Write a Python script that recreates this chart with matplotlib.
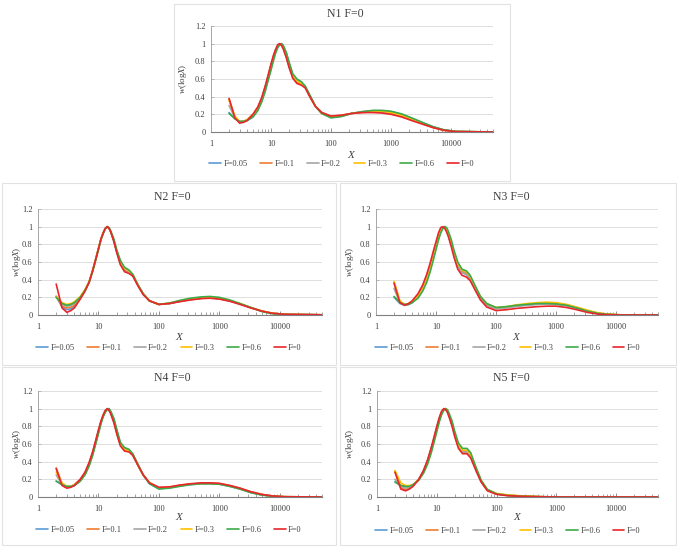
import matplotlib
matplotlib.use("Agg")
import matplotlib.pyplot as plt
from matplotlib.patches import Rectangle
from matplotlib.ticker import LogLocator, NullFormatter, FixedLocator, FixedFormatter

plt.rcParams['font.family'] = ['Liberation Serif', 'DejaVu Serif']
plt.rcParams['mathtext.fontset'] = 'custom'
plt.rcParams['mathtext.rm'] = 'Liberation Serif'
plt.rcParams['mathtext.it'] = 'Liberation Serif:italic'

# shared X grid
x_vals = [2, 2.5, 3, 3.5, 4, 5, 6, 7, 8, 9, 10, 11, 12, 13, 14, 15, 16, 18, 20, 23, 27, 32, 37, 45,
          55, 70, 100, 150, 220, 330, 500, 700, 1000, 1500, 2200, 3300, 5000, 7500, 12000, 50000]

series_labels = ["F=0.05", "F=0.1", "F=0.2", "F=0.3", "F=0.6", "F=0"]
series_colors = ["#5B9BD5", "#ED7D31", "#A5A5A5", "#FFC000", "#3DAA4A", "#E8262B"]

# N1
n1_f005 = [.22,.15,.12,.12,.13, .17,.25,.35,.47,.60,.72,.83,.91,.96,.99,1.0,.97,.89,.78, .65,.59,.56,.52,.40,.29,.21,.165, .18,.21,.23,.24,.24,.23,.20,.155,.105,.06,.025,.006,0]
n1_f01  = [.37,.17,.11,.12,.14, .20,.28,.38,.51,.64,.76,.86,.93,.98,1.0,.98,.95,.85,.74, .62,.56,.54,.51,.40,.29,.22,.18, .19,.21,.22,.23,.225,.21,.18,.14,.095,.05,.02,.005,0]
n1_f02  = [.30,.16,.11,.12,.14, .19,.27,.37,.50,.63,.75,.85,.93,.98,1.0,.99,.95,.86,.75, .63,.57,.55,.51,.40,.29,.22,.175, .185,.21,.225,.235,.23,.22,.19,.145,.10,.055,.022,.005,0]
n1_f03  = [.36,.18,.12,.12,.14, .19,.26,.36,.49,.62,.74,.84,.92,.97,.99,.99,.96,.87,.76, .64,.58,.55,.51,.40,.29,.21,.17, .18,.21,.225,.235,.235,.22,.19,.15,.10,.055,.022,.005,0]
n1_f06  = [.21,.15,.12,.12,.13, .17,.24,.34,.46,.59,.70,.81,.90,.96,.99,1.0,.98,.90,.79, .66,.60,.57,.52,.41,.29,.21,.16, .175,.21,.23,.245,.245,.235,.205,.16,.11,.06,.025,.006,0]
n1_f0   = [.38,.16,.10,.11,.13, .20,.28,.39,.52,.65,.77,.87,.94,.99,1.0,.98,.94,.84,.73, .61,.55,.53,.50,.39,.29,.22,.18, .19,.21,.22,.22,.215,.20,.17,.13,.09,.05,.02,.004,0]

# N2
n2_f005 = [.21,.09,.06,.07,.10, .19,.28,.37,.50,.63,.75,.86,.93,.98,1.0,.98,.94,.84,.72, .59,.51,.49,.45,.34,.24,.16,.12, .13,.155,.175,.19,.195,.185,.16,.125,.085,.045,.02,.008,.002]
n2_f01  = [.21,.10,.08,.09,.11, .19,.28,.37,.50,.63,.75,.86,.93,.98,1.0,.98,.94,.84,.72, .59,.51,.49,.45,.34,.24,.16,.12, .13,.155,.175,.19,.195,.185,.16,.125,.085,.045,.02,.008,.002]
n2_f02  = [.21,.12,.10,.11,.13, .20,.28,.37,.50,.63,.75,.86,.93,.98,1.0,.98,.94,.85,.73, .60,.52,.50,.46,.34,.24,.16,.12, .13,.155,.175,.19,.195,.185,.16,.125,.085,.045,.02,.008,.002]
n2_f03  = [.21,.14,.12,.13,.15, .21,.29,.38,.50,.63,.75,.86,.93,.98,1.0,.98,.94,.85,.73, .61,.53,.50,.46,.34,.24,.16,.12, .135,.16,.18,.195,.20,.19,.165,.13,.085,.045,.02,.008,.002]
n2_f06  = [.20,.13,.11,.12,.14, .20,.28,.37,.49,.62,.74,.85,.92,.98,1.0,.99,.95,.86,.74, .62,.54,.51,.46,.34,.24,.16,.12, .135,.165,.19,.205,.21,.20,.17,.13,.085,.04,.015,.005,.002]
n2_f0   = [.35,.08,.03,.05,.08, .18,.27,.37,.50,.63,.75,.86,.93,.98,1.0,.98,.94,.83,.71, .57,.49,.47,.44,.33,.23,.16,.12, .13,.15,.17,.185,.19,.18,.155,.12,.08,.045,.02,.008,.002]

# N3
n3_f005 = [.20,.13,.11,.12,.14, .20,.29,.40,.53,.66,.78,.88,.95,.99,1.0,.97,.91,.80,.69, .56,.48,.46,.41,.30,.19,.11,.075, .085,.10,.115,.125,.13,.125,.11,.08,.045,.018,.006,.001,0]
n3_f01  = [.37,.15,.11,.13,.15, .22,.31,.42,.55,.68,.80,.90,.97,1.0,.99,.96,.91,.80,.69, .57,.50,.48,.43,.31,.20,.12,.08, .09,.11,.12,.13,.135,.13,.115,.085,.05,.02,.007,.002,0]
n3_f02  = [.30,.14,.11,.12,.14, .21,.30,.41,.54,.67,.79,.89,.96,.99,1.0,.96,.91,.80,.69, .56,.48,.46,.41,.30,.19,.11,.07, .08,.10,.11,.12,.125,.12,.105,.08,.045,.018,.006,.001,0]
n3_f03  = [.38,.16,.12,.13,.15, .21,.29,.40,.52,.65,.77,.87,.95,.99,1.0,.97,.92,.81,.70, .58,.51,.49,.44,.32,.21,.13,.085, .095,.115,.13,.14,.145,.14,.12,.09,.055,.025,.008,.002,0]
n3_f06  = [.21,.14,.12,.12,.14, .19,.27,.37,.49,.62,.74,.85,.93,.98,1.0,.99,.95,.85,.73, .60,.52,.50,.45,.33,.21,.13,.085, .095,.11,.12,.13,.13,.125,.11,.08,.045,.018,.006,.001,0]
n3_f0   = [.36,.14,.11,.13,.16, .24,.34,.46,.59,.72,.83,.93,.99,1.0,.98,.94,.89,.77,.65, .52,.45,.43,.39,.28,.17,.09,.05, .06,.075,.085,.095,.10,.10,.085,.06,.03,.01,.003,0,0]

# N4
n4_f005 = [.18,.14,.12,.12,.13, .18,.26,.36,.48,.61,.73,.84,.92,.97,.99,1.0,.96,.88,.76, .61,.55,.53,.48,.36,.25,.15,.095, .105,.125,.14,.15,.15,.145,.12,.09,.05,.025,.01,.003,0]
n4_f01  = [.33,.15,.11,.12,.14, .20,.28,.38,.50,.63,.75,.85,.93,.98,1.0,.98,.95,.85,.73, .59,.53,.52,.48,.36,.25,.16,.105, .11,.13,.145,.155,.155,.15,.13,.10,.06,.03,.012,.003,0]
n4_f02  = [.25,.14,.11,.12,.14, .19,.27,.37,.49,.62,.74,.85,.92,.97,1.0,.99,.95,.86,.74, .60,.54,.52,.48,.36,.25,.16,.10, .11,.13,.145,.155,.155,.15,.125,.095,.055,.027,.01,.003,0]
n4_f03  = [.28,.16,.12,.12,.14, .18,.26,.36,.48,.61,.73,.84,.92,.97,.99,.99,.96,.87,.75, .60,.54,.52,.48,.36,.25,.16,.10, .11,.13,.145,.155,.155,.15,.125,.095,.055,.027,.01,.003,0]
n4_f06  = [.18,.14,.12,.12,.13, .18,.25,.35,.47,.60,.72,.83,.91,.96,.99,1.0,.97,.89,.77, .62,.56,.54,.49,.37,.25,.15,.09, .10,.12,.14,.15,.15,.145,.12,.09,.05,.022,.008,.002,0]
n4_f0   = [.32,.13,.10,.11,.13, .20,.28,.39,.51,.64,.76,.86,.93,.98,1.0,.98,.94,.84,.72, .58,.52,.51,.47,.36,.25,.16,.11, .115,.135,.15,.16,.16,.155,.13,.10,.06,.03,.012,.003,0]

# N5
n5_f005 = [.17,.13,.12,.12,.14, .20,.29,.40,.52,.65,.77,.87,.95,.99,1.0,.97,.92,.83,.71, .58,.52,.52,.47,.32,.18,.08,.035, .02,.013,.008,.004,.002,.001,0,0,0,0,0,0,0]
n5_f01  = [.29,.11,.08,.10,.13, .20,.30,.41,.54,.67,.79,.89,.96,.99,1.0,.97,.92,.82,.70, .57,.51,.51,.46,.32,.18,.08,.035, .02,.013,.008,.004,.002,.001,0,0,0,0,0,0,0]
n5_f02  = [.20,.12,.10,.11,.13, .20,.29,.40,.53,.66,.78,.88,.95,.99,1.0,.97,.92,.82,.70, .57,.51,.51,.46,.32,.18,.08,.035, .02,.013,.008,.004,.002,.001,0,0,0,0,0,0,0]
n5_f03  = [.30,.16,.13,.13,.14, .20,.28,.39,.51,.64,.76,.87,.94,.98,1.0,.98,.93,.83,.72, .59,.53,.53,.48,.33,.19,.085,.04, .025,.016,.01,.005,.002,.001,0,0,0,0,0,0,0]
n5_f06  = [.17,.13,.12,.12,.14, .19,.27,.37,.49,.62,.74,.85,.93,.98,1.0,.99,.95,.86,.74, .61,.55,.55,.50,.34,.19,.085,.035, .018,.01,.006,.003,.001,0,0,0,0,0,0,0,0]
n5_f0   = [.28,.09,.07,.09,.12, .20,.30,.42,.55,.68,.80,.90,.97,1.0,.99,.96,.91,.80,.68, .55,.49,.49,.44,.30,.17,.07,.03, .015,.01,.006,.003,.001,0,0,0,0,0,0,0,0]

x_ticks = [1, 10, 100, 1000, 10000]
x_tick_labels = ["1", "10", "100", "1000", "10000"]
y_ticks = [0, 0.2, 0.4, 0.6, 0.8, 1.0, 1.2]
y_tick_labels = ["0", "0.2", "0.4", "0.6", "0.8", "1", "1.2"]

W, H = 677, 549
fig = plt.figure(figsize=(W / 100, H / 100), dpi=100)

def fx(px):
    return px / W

def fy(py):
    return 1 - py / H

# name, series, box (x0,y0,x1,y1), plot area (x0,y0,x1,y1), title y, xlabel y, legend y, ylabel offset
panels = [
    ("N1 F=0", [n1_f005, n1_f01, n1_f02, n1_f03, n1_f06, n1_f0], (174, 4, 510, 181), (211, 26, 493, 132), 14, 154, 164, 28),
    ("N2 F=0", [n2_f005, n2_f01, n2_f02, n2_f03, n2_f06, n2_f0], (2, 183, 336, 365), (38, 209, 322, 315), 197, 336, 348, 21),
    ("N3 F=0", [n3_f005, n3_f01, n3_f02, n3_f03, n3_f06, n3_f0], (340, 183, 676, 365), (376, 209, 658, 315), 197, 336, 348, 26),
    ("N4 F=0", [n4_f005, n4_f01, n4_f02, n4_f03, n4_f06, n4_f0], (2, 367, 336, 545), (38, 391, 322, 497), 378, 517, 530, 21),
    ("N5 F=0", [n5_f005, n5_f01, n5_f02, n5_f03, n5_f06, n5_f0], (340, 367, 676, 545), (377, 391, 658, 497), 378, 517, 531, 27),
]

for title, series, box, area, ty, xly, legy, yloff in panels:
    bx0, by0, bx1, by1 = box
    fig.patches.append(Rectangle((fx(bx0), fy(by1)), (bx1 - bx0) / W, (by1 - by0) / H,
                                 transform=fig.transFigure, fill=False,
                                 edgecolor="#E2E2E2", linewidth=0.8))
    ax0, ay0, ax1, ay1 = area
    ax = fig.add_axes([fx(ax0), fy(ay1), (ax1 - ax0) / W, (ay1 - ay0) / H])
    handles = []
    for vals, lab, col in zip(series, series_labels, series_colors):
        h, = ax.plot(x_vals, vals, color=col, linewidth=1.2, label=lab,
                     solid_capstyle="round", solid_joinstyle="round")
        handles.append(h)
    ax.set_xscale("log")
    ax.set_xlim(1, 50000)
    ax.set_ylim(0, 1.2)
    ax.xaxis.set_major_locator(FixedLocator(x_ticks))
    ax.xaxis.set_major_formatter(FixedFormatter(x_tick_labels))
    ax.xaxis.set_minor_locator(LogLocator(base=10, subs=range(2, 10), numticks=100))
    ax.xaxis.set_minor_formatter(NullFormatter())
    ax.set_yticks(y_ticks)
    ax.set_yticklabels(y_tick_labels)
    ax.grid(axis="y", color="#D9D9D9", linewidth=0.6)
    ax.set_axisbelow(True)
    for s in ["top", "right"]:
        ax.spines[s].set_visible(False)
    ax.spines["bottom"].set_color("#7F7F7F")
    ax.spines["bottom"].set_linewidth(0.8)
    ax.spines["left"].set_color("#A6A6A6")
    ax.spines["left"].set_linewidth(0.7)
    ax.tick_params(axis="x", which="major", direction="in", length=3, width=0.6,
                   color="#7F7F7F", labelsize=6, pad=6, labelcolor="#404040")
    ax.tick_params(axis="x", which="minor", direction="in", length=2.5, width=0.5, color="#7F7F7F")
    ax.tick_params(axis="y", direction="in", length=2, width=0.5, color="#A6A6A6",
                   labelsize=6, pad=4, labelcolor="#404040")
    cx = (bx0 + bx1) / 2
    fig.text(fx(cx + 3), fy(ty), title, ha="center", va="center", fontsize=8.5, color="#404040")
    fig.text(fx((ax0 + ax1) / 2), fy(xly), r"$X$", ha="center", va="center", fontsize=8, color="#404040")
    fig.text(fx(ax0 - yloff), fy((ay0 + ay1) / 2), r"$w$(log$X$)", rotation=90,
             ha="center", va="center", fontsize=6.5, color="#404040")
    fig.legend(handles=handles, loc="center", bbox_to_anchor=(fx(cx), fy(legy)), ncol=6,
               frameon=False, fontsize=6, handlelength=1.4, handletextpad=0.3,
               columnspacing=1.5, labelcolor="#404040")

fig.savefig("out.png", dpi=100, facecolor="white")
